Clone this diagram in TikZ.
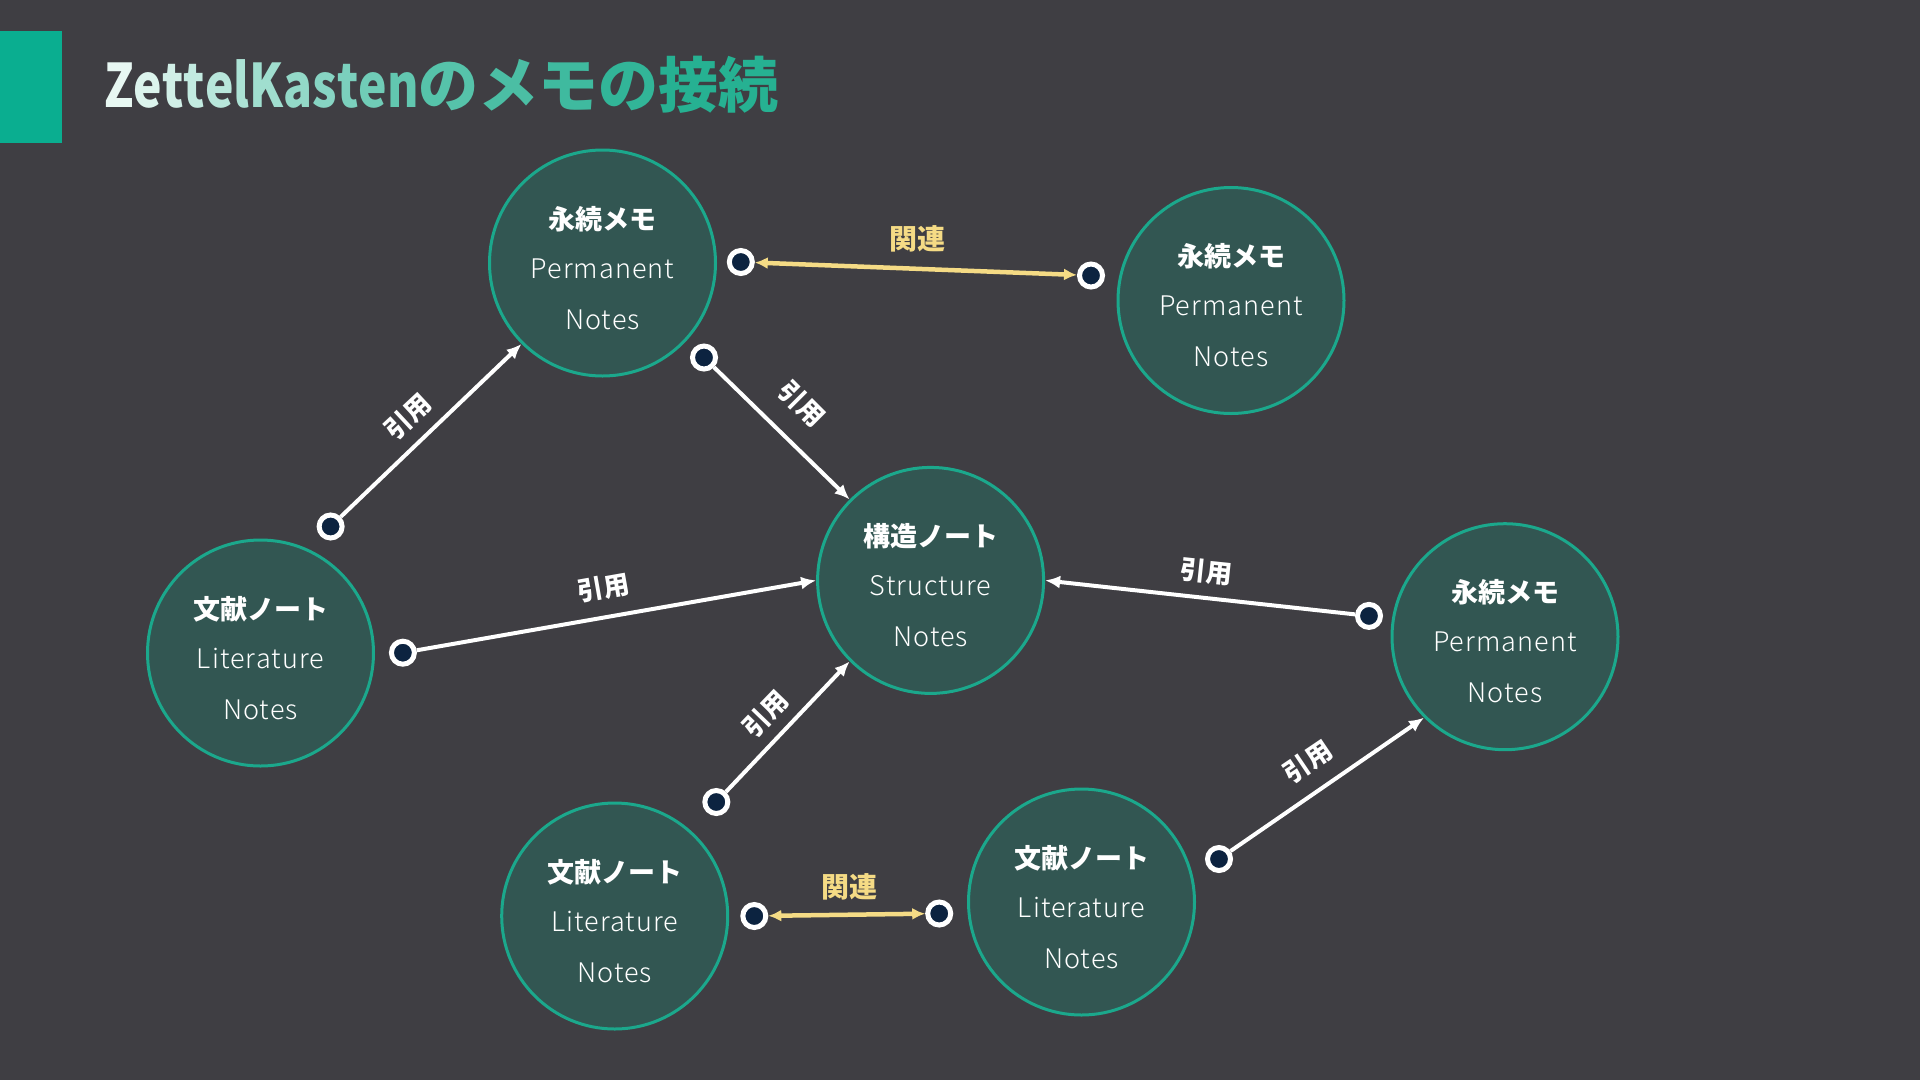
\documentclass[tikz,border=0pt]{standalone}
\usepackage{fontspec}
\setmainfont{Noto Sans CJK JP}
\newfontfamily\lightfont{Noto Sans CJK JP Light}[LetterSpace=4]
\usetikzlibrary{arrows.meta}
\definecolor{bg}{HTML}{3F3E43}
\definecolor{notefill}{HTML}{325652}
\definecolor{noteline}{HTML}{1BA88C}
\definecolor{barcol}{HTML}{0AAE90}
\definecolor{dotfill}{HTML}{0C2340}
\definecolor{relyellow}{HTML}{F5DB85}
\definecolor{tA}{HTML}{E8F8F3}
\definecolor{tB}{HTML}{26B192}
\newcommand\tc[2]{\textcolor{tB!#1!tA}{#2}}
\newcommand\notenode[5]{%
  \node[notecirc] (#1) at (#2) {};
  \node[jptext] (#1a) at ([yshift=34pt]#1.center) {#3};
  \node[entext] (#1b) at ([yshift=-15pt]#1.center) {#4};
  \node[entext] (#1c) at ([yshift=-66pt]#1.center) {#5};
}
\begin{document}
\begin{tikzpicture}[x=1pt,y=-1pt,
  notecirc/.style={circle, draw=noteline, fill=notefill, line width=3pt, minimum size=226pt, inner sep=0pt},
  jptext/.style={text=white, font=\bfseries\fontsize{27}{27}\selectfont, inner sep=0pt, anchor=base},
  entext/.style={text=white, font=\lightfont\fontsize{27}{27}\selectfont, inner sep=0pt, anchor=base},
  dotnode/.style={circle, draw=white, fill=dotfill, line width=5pt, minimum size=23pt, inner sep=0pt},
  cite/.style={draw=white, line width=4pt, -{Latex[length=15pt,width=13pt]}},
  rel/.style={draw=relyellow, line width=4.5pt, {Latex[length=13pt,width=12pt]}-{Latex[length=13pt,width=12pt]}},
  citelabel/.style={text=white, font=\bfseries\fontsize{26}{26}\selectfont, inner sep=0pt},
  rellabel/.style={text=relyellow, font=\bfseries\fontsize{28}{28}\selectfont, inner sep=0pt}]
\useasboundingbox (0,0) rectangle (1920,1080);
\fill[bg] (0,0) rectangle (1920,1080);
\node[fill=barcol, minimum width=62pt, minimum height=112pt, anchor=north west, inner sep=0pt] (bar) at (0,31) {};
\node[anchor=base west, inner sep=0pt, font=\bfseries\fontsize{60}{60}\selectfont] (title) at (104,107)
  {\scalebox{0.8}[1]{\tc{0}{Z}\tc{6}{e}\tc{12}{t}\tc{19}{t}\tc{25}{e}\tc{31}{l}\tc{37}{K}\tc{44}{a}\tc{50}{s}\tc{56}{t}\tc{62}{e}\tc{69}{n}}\tc{75}{の}\tc{81}{メ}\tc{87}{モ}\tc{94}{の}\tc{100}{接}\tc{100}{続}};
% notes
\notenode{P1}{602.5,263}{永続メモ}{Permanent}{Notes}
\notenode{P2}{1231,300.5}{永続メモ}{Permanent}{Notes}
\notenode{S}{930.6,580.4}{構造ノート}{Structure}{Notes}
\notenode{P3}{1505,636.7}{永続メモ}{Permanent}{Notes}
\notenode{L1}{260.5,653}{文献ノート}{Literature}{Notes}
\notenode{L2}{614.7,916}{文献ノート}{Literature}{Notes}
\notenode{L3}{1081.5,902}{文献ノート}{Literature}{Notes}
% dots
\node[dotnode] (dL1a) at (330.6,526.5) {};
\node[dotnode] (dL1b) at (402.9,652.7) {};
\node[dotnode] (dP1a) at (740.8,262) {};
\node[dotnode] (dP1b) at (704,357.5) {};
\node[dotnode] (dP2) at (1091,275.5) {};
\node[dotnode] (dP3) at (1369,615.9) {};
\node[dotnode] (dL2a) at (716.3,802) {};
\node[dotnode] (dL2b) at (754.3,916) {};
\node[dotnode] (dL3a) at (939.2,913.5) {};
\node[dotnode] (dL3b) at (1219,859) {};
% citation connectors
\draw[cite] (dL1a) -- (P1.225);
\draw[cite] (dP1b) -- (S.135);
\draw[cite] (dL1b) -- (S.180);
\draw[cite] (dP3) -- (S.0);
\draw[cite] (dL2a) -- (S.225);
\draw[cite] (dL3b) -- (P3.225);
% relation connectors
\draw[rel] (dP1a) -- (dP2);
\draw[rel] (dL2b) -- (dL3a);
% labels
\node[citelabel, rotate=43] (c1) at (407.8,416.3) {引用};
\node[citelabel, rotate=-45] (c2) at (802,404) {引用};
\node[citelabel, rotate=10] (c3) at (603.7,587.8) {引用};
\node[citelabel, rotate=-6] (c4) at (1206,571.8) {引用};
\node[citelabel, rotate=46] (c5) at (765.3,713.9) {引用};
\node[citelabel, rotate=34] (c6) at (1307.8,761.6) {引用};
\node[rellabel] (r1) at (917.2,238.8) {関連};
\node[rellabel] (r2) at (849.8,886.5) {関連};
\end{tikzpicture}
\end{document}
